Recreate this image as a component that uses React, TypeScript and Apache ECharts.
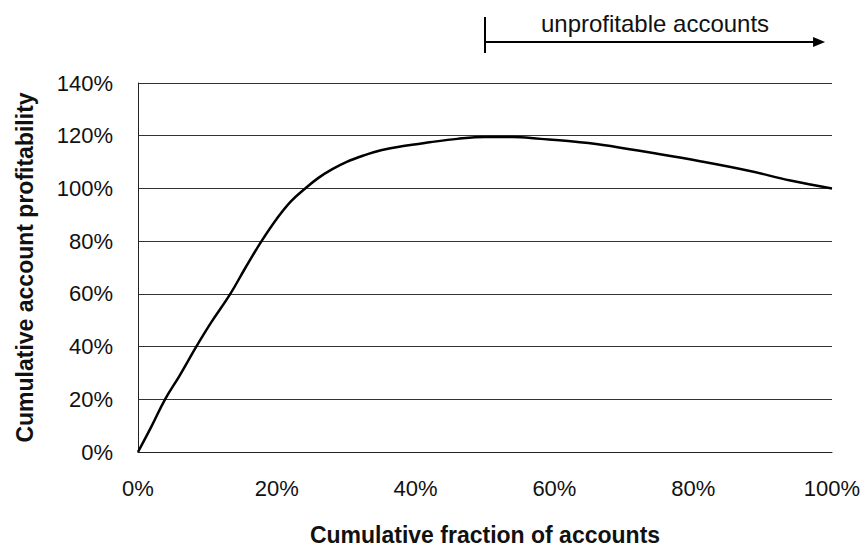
import React, { useEffect, useRef } from "react";
import * as echarts from "echarts";

const fractionPct: number[] = [0, 2, 3.9, 6, 8.4, 10.5, 13.3, 15.5, 17.8, 20, 22, 24.1, 26, 28, 30, 32.5, 35, 38, 42, 46, 50, 54, 58, 62, 67, 74, 81, 88, 94, 100];
const profitPct: number[] = [0, 10, 20, 29, 40, 49, 60, 70, 80, 88.5, 95, 100, 104, 107.3, 110, 112.5, 114.5, 116, 117.5, 118.8, 119.5, 119.5, 118.8, 118, 116.5, 113.5, 110.3, 106.7, 103, 100];

const xTicks = { min: 0, max: 100, interval: 20 };
const yTicks = { min: 0, max: 140, interval: 20 };
const annotationText = "unprofitable accounts";
const annotationStart = 50;
const annotationEnd = 99;
const xTitle = "Cumulative fraction of accounts";
const yTitle = "Cumulative account profitability";

export default function App() {
  const ref = useRef<HTMLDivElement>(null);
  useEffect(() => {
    document.body.style.margin = "0";
    if (!ref.current) return;
    const chart = echarts.init(ref.current, null, { renderer: "svg" });
    const font = "'Liberation Sans', Arial, sans-serif";
    chart.setOption({
      animation: false,
      backgroundColor: "#ffffff",
      grid: { left: 138, right: 33, top: 83, bottom: 98, containLabel: false },
      xAxis: {
        type: "value",
        min: xTicks.min,
        max: xTicks.max,
        interval: xTicks.interval,
        name: xTitle,
        nameLocation: "middle",
        nameGap: 71,
        nameTextStyle: { fontFamily: font, fontSize: 23, fontWeight: "bold", color: "#111" },
        axisLine: { show: true, lineStyle: { color: "#222", width: 1 } },
        axisTick: { show: false },
        splitLine: { show: false },
        axisLabel: { formatter: "{value}%", fontFamily: font, fontSize: 22, color: "#111", margin: 25 },
      },
      yAxis: {
        type: "value",
        min: yTicks.min,
        max: yTicks.max,
        interval: yTicks.interval,
        name: yTitle,
        nameLocation: "middle",
        nameGap: 102,
        nameTextStyle: { fontFamily: font, fontSize: 23, fontWeight: "bold", color: "#111" },
        axisLine: { show: true, lineStyle: { color: "#222", width: 1 } },
        axisTick: { show: false },
        splitLine: { show: true, lineStyle: { color: "#333", width: 1 } },
        axisLabel: { formatter: "{value}%", fontFamily: font, fontSize: 22, color: "#111", margin: 25 },
      },
      series: [
        {
          type: "line",
          data: fractionPct.map((x, i) => [x, profitPct[i]]),
          smooth: 0.4,
          showSymbol: false,
          lineStyle: { color: "#000", width: 2.5 },
        },
      ],
    });
    const x0 = chart.convertToPixel({ xAxisIndex: 0 }, annotationStart) as number;
    const x1 = chart.convertToPixel({ xAxisIndex: 0 }, annotationEnd) as number;
    const yArrow = 42;
    chart.setOption({
      graphic: [
        { type: "line", shape: { x1: x0, y1: 17, x2: x0, y2: 53 }, style: { stroke: "#000", lineWidth: 2 } },
        { type: "line", shape: { x1: x0, y1: yArrow, x2: x1 - 8, y2: yArrow }, style: { stroke: "#000", lineWidth: 2 } },
        { type: "polygon", shape: { points: [[x1, yArrow], [x1 - 12, yArrow - 5], [x1 - 12, yArrow + 5]] }, style: { fill: "#000" } },
        {
          type: "text",
          x: (x0 + x1) / 2,
          y: 23,
          style: { text: annotationText, font: `24px ${font}`, fill: "#111", align: "center", verticalAlign: "middle" },
        },
      ],
    });
    return () => chart.dispose();
  }, []);
  return <div ref={ref} style={{ width: 865, height: 551 }} />;
}
